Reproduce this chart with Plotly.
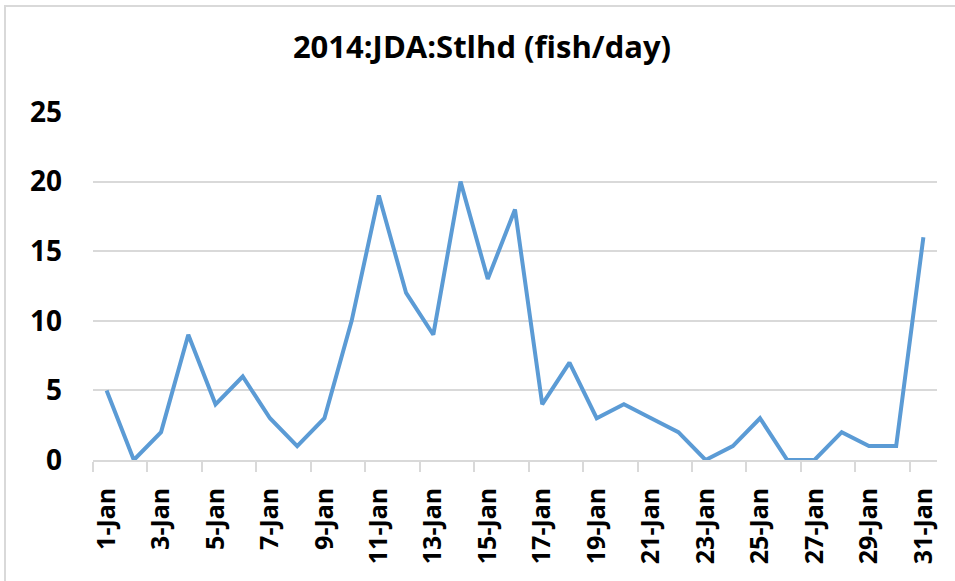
import plotly.graph_objects as go

days = list(range(1, 32))
fish = [5, 0, 2, 9, 4, 6, 3, 1, 3, 10, 19, 12, 9, 20, 13, 18, 4, 7, 3, 4, 3, 2, 0, 1, 3, 0, 0, 2, 1, 1, 16]
label_days = list(range(1, 32, 2))
label_text = [f"{d}-Jan" for d in label_days]
y_ticks = [0, 5, 10, 15, 20, 25]
title = "2014:JDA:Stlhd (fish/day)"

FONT = "Open Sans"
GRID = "#d9d9d9"

fig = go.Figure()
fig.add_trace(go.Scatter(
    x=days, y=fish, mode="lines",
    line=dict(color="#5b9bd5", width=4),
    hoverinfo="x+y",
))

W, H = 955, 581
ml, mr, mt, mb = 93, 18, 112, 121
pw = W - ml - mr
ph = H - mt - mb

fig.update_layout(
    width=W, height=H,
    margin=dict(l=ml, r=mr, t=mt, b=mb, autoexpand=False),
    paper_bgcolor="white", plot_bgcolor="white",
    showlegend=False,
    title=dict(text=title, x=(482 - ml) / pw, xref="paper", xanchor="center",
               y=1 - 47 / H, yanchor="middle",
               font=dict(family=FONT, size=31, color="#000000", weight="bold")),
    xaxis=dict(
        range=[0.5, 31.5], automargin=False,
        tickmode="array", tickvals=label_days, ticktext=label_text,
        ticks="", showgrid=False, zeroline=False,
        showline=True, linecolor=GRID, linewidth=1.5,
        tickangle=-90,
        tickfont=dict(family=FONT, size=25, color="#000000", weight="bold"),
        ticklabelstandoff=16,
        minor=dict(tick0=0.5, dtick=2, ticks="outside", ticklen=10,
                   tickcolor=GRID, tickwidth=1.5, showgrid=False),
    ),
    yaxis=dict(
        range=[0, 25], tickmode="array", tickvals=y_ticks, automargin=False,
        showgrid=True, gridcolor=GRID, gridwidth=1.5,
        zeroline=False, showline=False, ticks="",
        tickfont=dict(family=FONT, size=28, color="#000000", weight="bold"),
        ticklabelstandoff=30,
    ),
    shapes=[dict(type="rect", xref="paper", yref="paper",
                 x0=(5 - ml) / pw, x1=(W + 40 - ml) / pw,
                 y0=-(mb + 40) / ph, y1=1 + (mt - 6) / ph,
                 line=dict(color=GRID, width=2), fillcolor="rgba(0,0,0,0)",
                 layer="below")],
)

fig.write_html(
    "out.html",
    config={"displayModeBar": False},
    post_script="document.body.style.margin='0';document.body.style.overflow='hidden';",
)
